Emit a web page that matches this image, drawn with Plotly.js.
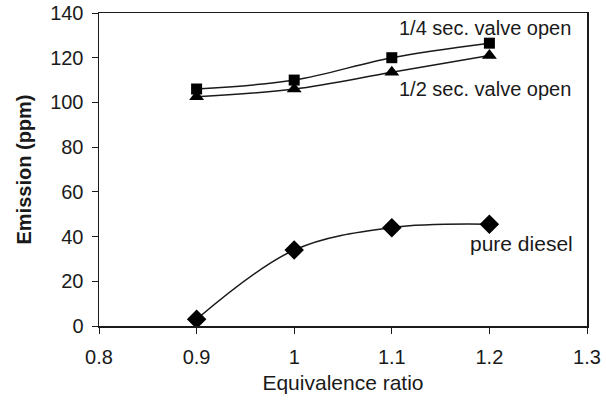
<!DOCTYPE html>
<html>
<head>
<meta charset="utf-8">
<script src="https://cdn.plot.ly/plotly-3.0.1.min.js"></script>
<style>html,body{margin:0;padding:0;background:#fff;}#chart{width:606px;height:403px;}</style>
</head>
<body>
<div id="chart"></div>
<script>
const ratio = [0.9, 1.0, 1.1, 1.2];
const quarterSec = [106, 110, 120, 126.5];
const halfSec = [102.5, 106, 113.5, 121];
const pureDiesel = [3, 34, 44, 45.5];
const xTicks = [0.8, 0.9, 1, 1.1, 1.2, 1.3];
const xTickText = ['0.8', '0.9', '1', '1.1', '1.2', '1.3'];
const yTicks = [0, 20, 40, 60, 80, 100, 120, 140];

const fam = 'Liberation Sans, Arial, sans-serif';
const ink = '#1a1a1a';
const lineStyle = {color: ink, width: 1.5, shape: 'spline', smoothing: 1};
const traces = [
  {x: ratio, y: quarterSec, mode: 'lines+markers', line: lineStyle,
   marker: {symbol: 'square', size: 11, color: '#000'}, name: '1/4 sec. valve open'},
  {x: ratio, y: halfSec, mode: 'lines+markers', line: lineStyle,
   marker: {symbol: 'triangle-up', size: 13, color: '#000'}, name: '1/2 sec. valve open'},
  {x: ratio, y: pureDiesel, mode: 'lines+markers', line: lineStyle,
   marker: {symbol: 'diamond', size: 15, color: '#000'}, name: 'pure diesel'}
];

const layout = {
  width: 606, height: 403,
  margin: {l: 99, r: 19, t: 13, b: 77},
  paper_bgcolor: '#fff', plot_bgcolor: '#fff',
  showlegend: false,
  font: {family: fam, size: 20, color: ink},
  xaxis: {
    range: [0.8, 1.3], tickvals: xTicks, ticktext: xTickText,
    showgrid: false, zeroline: false,
    showline: true, linecolor: ink, linewidth: 1.5, mirror: true,
    ticks: 'outside', ticklen: 6, tickcolor: ink, ticklabelstandoff: 6,
    tickfont: {family: fam, size: 20, color: ink},
    title: {text: 'Equivalence ratio', font: {family: fam, size: 21, color: ink}, standoff: 9}
  },
  yaxis: {
    range: [0, 140], tickvals: yTicks,
    showgrid: false, zeroline: false,
    showline: true, linecolor: ink, linewidth: 1.5, mirror: true,
    ticks: 'outside', ticklen: 6, tickcolor: ink, ticklabelstandoff: 4,
    tickfont: {family: fam, size: 20, color: ink},
    title: {text: '<b>Emission (ppm)</b>', font: {family: fam, size: 20, color: ink}, standoff: 13}
  },
  annotations: [
    {xref: 'paper', yref: 'y', x: 0.972, y: 133.5, xanchor: 'right', yanchor: 'middle',
     text: '1/4 sec. valve open', showarrow: false, font: {family: fam, size: 20, color: ink}},
    {xref: 'paper', yref: 'y', x: 0.972, y: 106, xanchor: 'right', yanchor: 'middle',
     text: '1/2 sec. valve open', showarrow: false, font: {family: fam, size: 20, color: ink}},
    {xref: 'paper', yref: 'y', x: 0.976, y: 37, xanchor: 'right', yanchor: 'middle',
     text: 'pure diesel', showarrow: false, font: {family: fam, size: 21, color: ink}}
  ]
};
Plotly.newPlot('chart', traces, layout, {staticPlot: true, displayModeBar: false});
</script>
</body>
</html>
